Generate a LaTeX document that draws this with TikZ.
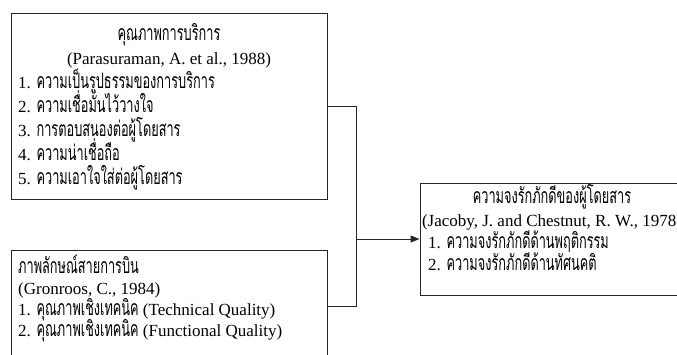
\documentclass[tikz,border=0pt]{standalone}
\usepackage{fontspec}
\setmainfont{Liberation Serif}
\newfontfamily\thaifont[Script=Thai,Scale=1.25,FakeStretch=0.6]{Loma}
\newcommand\T[1]{{\thaifont #1}}
\usetikzlibrary{arrows.meta}
\begin{document}
\begin{tikzpicture}[x=1pt,y=-1pt,
  box/.style={draw=black!85, line width=1pt, inner sep=0pt},
  txt/.style={anchor=base west, inner sep=0pt, font=\fontsize{17}{17}\selectfont},
  ctxt/.style={anchor=base, inner sep=0pt, font=\fontsize{17}{17}\selectfont},
  conn/.style={draw=black!85, line width=1pt}]
\useasboundingbox (0,0) rectangle (677,354);
\clip (0,0) rectangle (677,354);
% boxes
\node[box, minimum width=316pt, minimum height=186pt] (b1) at (169,106) {};
\node[box, minimum width=316pt, minimum height=112pt] (b2) at (169,306) {};
\node[box, minimum width=264pt, minimum height=112pt] (b3) at (552,239) {};
% box 1 text
\node[ctxt] (a0) at (169,40) {\T{คุณภาพการบริการ}};
\node[ctxt] (a1) at (169,64) {(Parasuraman,\ A. et al., 1988)};
\node[txt] (a2) at (18,88) {1. \T{ความเป็นรูปธรรมของการบริการ}};
\node[txt] (a3) at (18,112) {2. \T{ความเชื่อมั่นไว้วางใจ}};
\node[txt] (a4) at (18,136) {3. \T{การตอบสนองต่อผู้โดยสาร}};
\node[txt] (a5) at (18,160) {4. \T{ความน่าเชื่อถือ}};
\node[txt] (a6) at (18,184) {5. \T{ความเอาใจใส่ต่อผู้โดยสาร}};
% box 2 text
\node[txt] (c0) at (18,273) {\T{ภาพลักษณ์สายการบิน}};
\node[txt] (c1) at (18,294) {(Gronroos, C., 1984)};
\node[txt] (c2) at (18,315) {1. \T{คุณภาพเชิงเทคนิค} (Technical Quality)};
\node[txt] (c3) at (18,336) {2. \T{คุณภาพเชิงเทคนิค} (Functional Quality)};
% box 3 text
\node[ctxt] (d0) at (552,203) {\T{ความจงรักภักดีของผู้โดยสาร}};
\node[ctxt] (d1) at (552,226) {(Jacoby, J. and Chestnut, R. W., 1978)};
\node[txt] (d2) at (428,248) {1. \T{ความจงรักภักดีด้านพฤติกรรม}};
\node[txt] (d3) at (428,270) {2. \T{ความจงรักภักดีด้านทัศนคติ}};
% connectors
\coordinate (j) at (356,239);
\draw[conn] (b1.east) -| (j);
\draw[conn] (b2.east) -| (j);
\draw[conn,-{Triangle[length=9pt,width=7pt]}] (j) -- (b3.west);
\end{tikzpicture}
\end{document}
